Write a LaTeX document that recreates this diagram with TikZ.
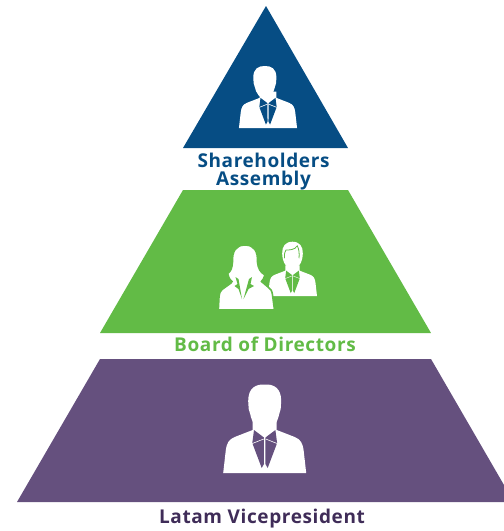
\documentclass[tikz,border=0pt]{standalone}
\usepackage{fontspec}
\setmainfont{Open Sans}
\newfontfamily\labfont[LetterSpace=3.2]{Open Sans}
\definecolor{cblue}{HTML}{064D84}
\definecolor{cgreen}{HTML}{62BB46}
\definecolor{cpurple}{HTML}{65507E}
\definecolor{ctext}{HTML}{3F2C58}
\tikzset{
  lab/.style={inner sep=0pt,font=\labfont\bfseries\fontsize{19}{19}\selectfont,anchor=base}
}
% suit details: #1 colour, #2 hairline width
\newcommand{\suitmarks}[2]{%
 \fill[#1] (-10.7,-43) -- (-0.8,-35.5) -- (-0.7,-9) -- (-3,-5) -- (-12.4,-30) -- cycle;
 \fill[#1] (10.7,-43) -- (0.8,-35.5) -- (0.7,-9) -- (3,-5) -- (12.4,-30) -- cycle;
 \draw[white,line width=#2] (-12.4,-29.5) -- (-1,-34);
 \draw[white,line width=#2] (12.4,-29.5) -- (1,-34);}
\newcommand{\bodyshape}{%
 (-41.5,0) -- (-39,-22) .. controls (-38,-30) and (-36,-33.5) .. (-30,-36)
   -- (-12,-43) -- (-12,-52) -- (12,-52) -- (12,-43) -- (30,-36)
   .. controls (36,-33.5) and (38,-30) .. (39,-22) -- (41.5,0) -- cycle}
% #1 x (body centre) #2 y (base) #3 scale #4 colour #5 head offset
\newcommand{\manicon}[5]{%
\begin{scope}[shift={(#1,#2)},scale=#3]
 \fill[white] \bodyshape;
 \begin{scope}[xshift=#5]
 \fill[white] (0,-88.5) .. controls (-9,-89) and (-16.5,-85) .. (-16.5,-72)
   -- (-16,-64) -- (-14.5,-59)
   .. controls (-13,-50) and (-6,-41) .. (0,-41)
   .. controls (6,-41) and (13,-50) .. (14.5,-59)
   -- (16,-64) -- (16.5,-72)
   .. controls (16.5,-85) and (9,-89) .. (0,-88.5) -- cycle;
 \end{scope}
 \suitmarks{#4}{0.6pt}
\end{scope}}
\begin{document}
\begin{tikzpicture}[x=1pt,y=-1pt]
\useasboundingbox (0,0) rectangle (504,531);
\fill[cblue] (266,6) -- (348,148) -- (183,148) -- cycle;
\fill[cgreen] (183,190) -- (348,190) -- (431,333) -- (100,333) -- cycle;
\fill[cpurple] (100,359) -- (431,359) -- (504,485) -- (504,502) -- (17,502) -- cycle;
\manicon{268}{128}{0.70}{cblue}{-4.5pt}
\manicon{264.7}{473}{1}{cpurple}{0pt}
% back man in the board icon
\begin{scope}[shift={(292.5,296)},scale=0.59]
 \fill[white] \bodyshape;
 \fill[white] (0,-92) .. controls (-12,-92) and (-18,-84) .. (-17.5,-72)
   .. controls (-17,-64) and (-16,-60) .. (-14,-56)
   .. controls (-11,-50) and (-5,-47) .. (0,-47)
   .. controls (5,-47) and (11,-50) .. (14,-56)
   .. controls (16,-60) and (17,-64) .. (17.5,-72)
   .. controls (18,-84) and (12,-92) .. (0,-92) -- cycle;
 \draw[cgreen,line width=0.8pt] (-13.5,-64) .. controls (-14,-72) and (-13,-76) .. (-11,-78)
   .. controls (-5,-78) and (4,-78) .. (8,-85) .. controls (11,-80) and (12,-72) .. (11,-64);
 \suitmarks{cgreen}{0.4pt}
\end{scope}
% woman in the board icon
\fill[white,draw=cgreen,line width=1.6pt] (218.3,310) -- (219,297) .. controls (219.5,293) and (220,291) .. (222,289.5)
  -- (231,283) -- (232,281.5)
  .. controls (229,279) and (228,276) .. (227.7,273.5)
  .. controls (231,271) and (232,268) .. (232.5,262)
  .. controls (232,251) and (236,245) .. (245,245)
  .. controls (254,245) and (258,251) .. (257.5,262)
  .. controls (258,268) and (260,272) .. (265,275)
  .. controls (264,278) and (263,280) .. (261.5,281.5)
  -- (268,287) .. controls (271,289) and (272,291) .. (272.5,295)
  -- (274.5,310) -- cycle;
\fill[cgreen] (235.5,277) -- (238.5,279) -- (242,299) -- (238.5,289) -- (234.5,286) -- (237.5,284) -- cycle;
\fill[cgreen] (252,277) -- (249,279) -- (243.5,299) -- (248.5,289) -- (254,286) -- (250.5,284) -- cycle;
\node[lab,text=cblue] (share) at (263.5,167) {Shareholders};
\node[lab,text=cblue] (assembly) at (263.5,185) {Assembly};
\node[lab,text=cgreen] (board) at (265,351) {Board of Directors};
\node[lab,text=ctext] (latam) at (262,523) {Latam Vicepresident};
\end{tikzpicture}
\end{document}
